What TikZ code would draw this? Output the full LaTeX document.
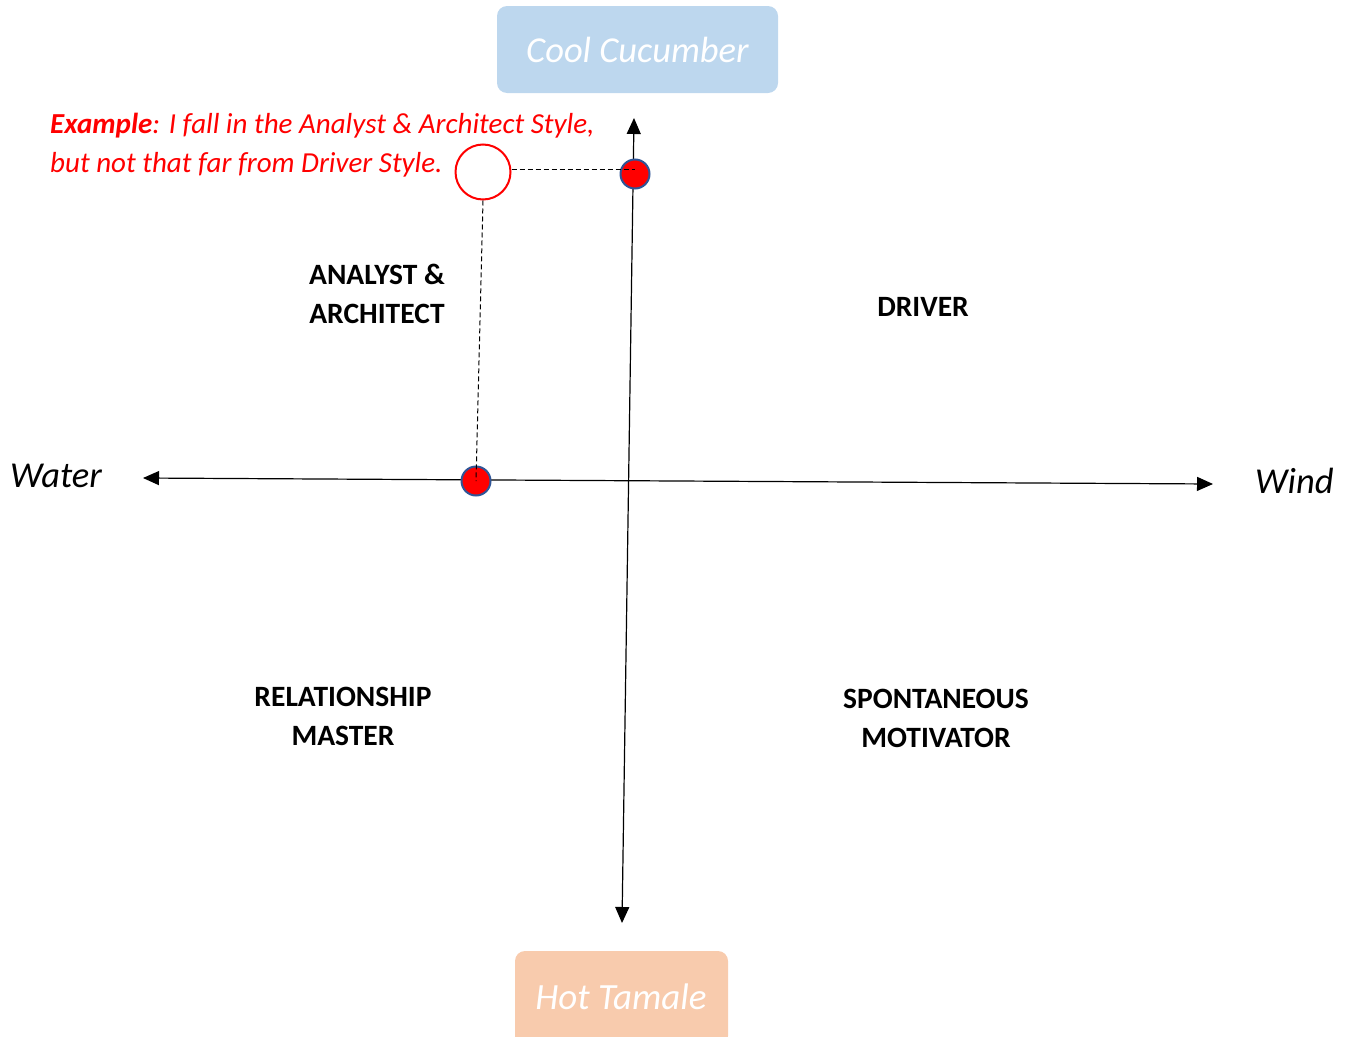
\documentclass[tikz,border=0pt]{standalone}
\usepackage{fontspec}
\setmainfont{Carlito}
\usetikzlibrary{arrows.meta}
\definecolor{cbox}{HTML}{BDD7EE}
\definecolor{hbox}{HTML}{F8CBAD}
\definecolor{dotedge}{HTML}{2F5597}
\definecolor{exred}{HTML}{FF0000}
\tikzset{
  axis/.style={line width=1.2pt, {Triangle[length=16pt,width=14pt]}-{Triangle[length=16pt,width=14pt]}},
  tempbox/.style={rounded corners=10pt, inner sep=0pt, text=white, font=\fontsize{36.5}{40}\selectfont\itshape},
  quad/.style={font=\fontsize{29.5}{39}\selectfont\bfseries, align=center, inner sep=0pt},
  dir/.style={font=\fontsize{36.5}{40}\selectfont\itshape, inner sep=0pt},
  dot/.style={circle, fill=red, draw=dotedge, line width=2pt, minimum size=29pt, inner sep=0pt},
  guide/.style={dashed, line width=1pt, dash pattern=on 5pt off 3pt},
}
\begin{document}
\begin{tikzpicture}[x=1pt,y=-1pt]
\useasboundingbox (0,0) rectangle (1348,1036);
% temperature boxes
\node[tempbox, fill=cbox, minimum width=281pt, minimum height=87pt] (cool) at (637.5,49.5) {Cool Cucumber};
\fill[hbox, rounded corners=10pt] (515,951) rectangle (728,1046);
\node[font=\fontsize{37}{40}\selectfont\itshape, text=white, inner sep=0pt] (hot) at (621,997) {Hot Tamale};
% axes
\coordinate (vtop) at (634,118);
\coordinate (vbot) at (622,923);
\coordinate (hleft) at (143,478);
\coordinate (hright) at (1213,484);
\draw[axis] (hleft) -- (hright);
\draw[axis] (vbot) -- (vtop);
% direction labels
\node[dir, anchor=west] (water) at (10,476) {Water};
\node[dir, anchor=west] (wind) at (1255,481) {Wind};
% quadrant labels
\node[quad] (analyst) at (377,294) {ANALYST \&\\ARCHITECT};
\node[quad] (driver) at (923,307) {DRIVER};
\node[quad] (relat) at (343,716) {RELATIONSHIP\\MASTER};
\node[quad] (spont) at (936,718) {SPONTANEOUS\\MOTIVATOR};
% example
\node[anchor=west, align=left, text=exred, inner sep=0pt, font=\fontsize{29}{39}\selectfont\itshape] (example) at (50,145.5) {\textbf{Example}: I fall in the Analyst \& Architect Style,\\but not that far from Driver Style.};
% marker circle and dots
\node[circle, draw=exred, line width=2pt, minimum size=55pt, inner sep=0pt] (me) at (483,172) {};
\node[dot] (dy) at (635,174) {};
\node[dot] (dx) at (476,481) {};
\draw[guide] (me.east |- 0,169) -- (dy.center |- 0,169);
\draw[guide] (me.south) -- (dx.center);
\end{tikzpicture}
\end{document}
